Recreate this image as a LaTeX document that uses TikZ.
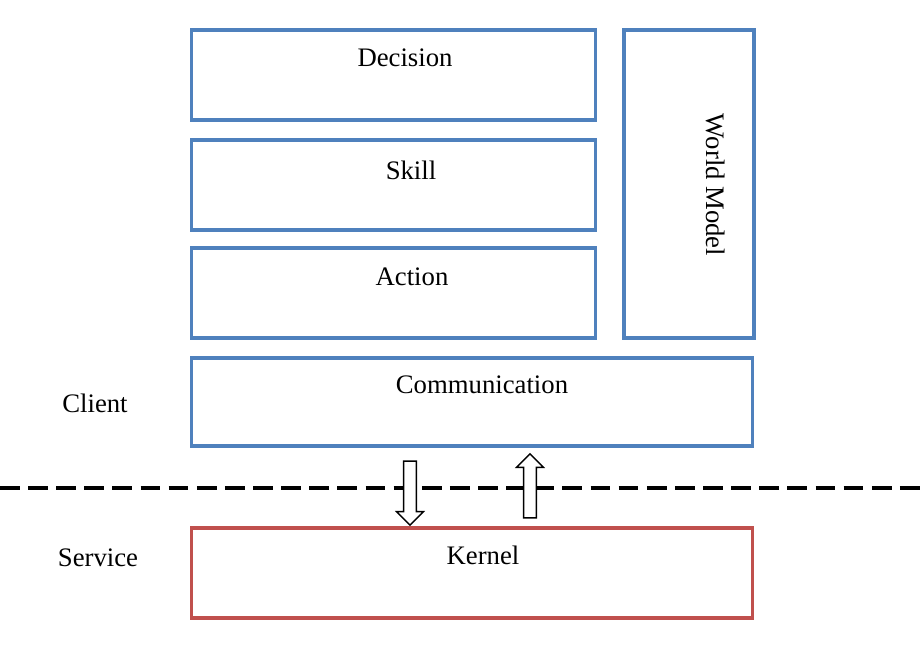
\documentclass[tikz,border=0pt]{standalone}
\usepackage{fontspec}
\setmainfont{Liberation Serif}
\usetikzlibrary{shapes.arrows}
\begin{document}
\begin{tikzpicture}[x={(0.025cm,0)}, y={(0,-0.025cm)},
    layer/.style={draw=blue!45!gray!90!black, line width=2.2pt, rectangle, inner sep=0pt},
    kern/.style={draw=red!60!black!80, line width=2.2pt, rectangle, inner sep=0pt},
    tag/.style={font=\fontsize{19}{23}\selectfont},
    flow/.style={single arrow, draw, fill=white, line width=1pt, inner sep=0.14cm,
        minimum height=1.6cm, single arrow head extend=0.18cm, single arrow head indent=0pt}]
    \useasboundingbox (0,0) rectangle (921,645);
    \definecolor{boxblue}{RGB}{79,129,189}
    \definecolor{boxred}{RGB}{192,80,77}
    % upper layers
    \node[layer, draw=boxblue, minimum width=10.075cm, minimum height=2.25cm] (decision) at (393.5,75) {};
    \node[tag] at (405,58) {Decision};
    \node[layer, draw=boxblue, minimum width=10.075cm, minimum height=2.25cm] (skill) at (393.5,185) {};
    \node[tag] at (411,170) {Skill};
    \node[layer, draw=boxblue, minimum width=10.075cm, minimum height=2.25cm] (action) at (393.5,293) {};
    \node[tag] at (412,277) {Action};
    \node[layer, draw=boxblue, minimum width=3.25cm, minimum height=7.7cm] (world) at (689,184) {};
    \node[tag, rotate=-90] at (716,185) {World Model};
    \node[layer, draw=boxblue, minimum width=14cm, minimum height=2.2cm] (comm) at (472,402) {};
    \node[tag] at (482,385) {Communication};
    \node[kern, draw=boxred, minimum width=14cm, minimum height=2.25cm] (kernel) at (472,573) {};
    \node[tag] at (483,555) {Kernel};
    % side labels
    \node[tag] (client) at (95,403) {Client};
    \node[tag] (service) at (98,558) {Service};
    \draw[line width=3.5pt, dash pattern=on 14pt off 6pt] (0,488) coordinate (l) -- (921,488) coordinate (r);
    % messages
    \node[flow, rotate=-90] (down) at (410,490) {};
    \node[flow, rotate=90] (up) at (530,489) {};
\end{tikzpicture}
\end{document}
